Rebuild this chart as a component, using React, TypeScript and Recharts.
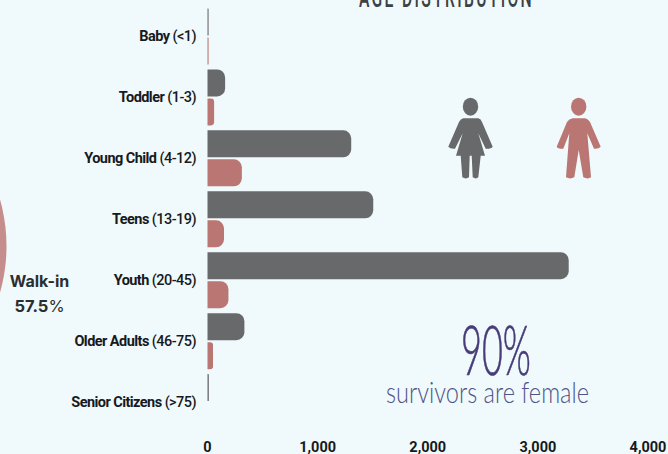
import { Bar, BarChart, Cell, Pie, PieChart, XAxis, YAxis } from "recharts";

const ageGroups = ["Baby", "Toddler", "Young Child", "Teens", "Youth", "Older Adults", "Senior Citizens"];
const ageRanges = ["(<1)", "(1-3)", "(4-12)", "(13-19)", "(20-45)", "(46-75)", "(>75)"];
const femaleCounts = [10, 160, 1305, 1505, 3280, 335, 12];
const maleCounts = [10, 60, 312, 150, 190, 50, 0];
const xTicks = [0, 1000, 2000, 3000, 4000];

const arrivalNames = ["Walk-in", "Other"];
const arrivalShares = [57.5, 42.5];

const GREY = "#68696b";
const PINK = "#b97672";
const BG = "#f0f9fb";

const data = ageGroups.map((name, i) => ({
  name,
  range: ageRanges[i],
  female: femaleCounts[i],
  male: maleCounts[i],
}));
const arrivals = arrivalNames.map((name, i) => ({ name, value: arrivalShares[i] }));

function AgeTick({ x, y, payload, index }: any) {
  return (
    <text
      x={x - 3.5}
      y={y}
      dy={4}
      textAnchor="end"
      fontFamily="Roboto"
      fontSize={14.5}
      fontWeight={700}
      letterSpacing={-0.55}
      fill="#17191c"
    >
      {payload.value} <tspan fontWeight={500}>{ageRanges[index]}</tspan>
    </text>
  );
}

function People() {
  return (
    <svg width={668} height={454} style={{ position: "absolute", left: 0, top: 0 }}>
      <text
        x={359}
        y={7}
        fontFamily="Roboto"
        fontSize={27}
        fontWeight={500}
        letterSpacing={4}
        fill="#3c4145"
        textLength={175}
        lengthAdjust="spacingAndGlyphs"
      >
        AGE DISTRIBUTION
      </text>

      <ellipse cx={470.5} cy={106.7} rx={7.7} ry={9} fill={GREY} />
      <path
        d="M463.3 118.3 L478.3 118.3 Q481 119 482 122 L492.7 146.7 Q491 149 485.7 148.7 L478.3 133.3 L485 155.7 L480.7 155.7 L478.3 177.3 Q476 179.5 472.7 177.3 L471.7 155.7 L469.7 155.7 L469 177.3 Q466 179.5 462.3 177.3 L460.7 155.7 L456 155.7 L462.7 133.3 L455 148.7 Q450 149 448.3 146.7 L459 122 Q460.5 119 463.3 118.3 Z"
        fill={GREY}
      />
      <ellipse cx={578.7} cy={106.7} rx={7.7} ry={9} fill={PINK} />
      <path
        d="M572.7 118.3 L585 118.3 Q588 119 590 122 L600.7 146.7 Q599 149 594 148.7 L587.3 133.3 L591 177.3 Q588 179.5 583.3 177.3 L578.7 150 L574.3 177.3 Q570 179.5 566 177.3 L569.3 133.3 L563.3 148.7 Q558 149 556.7 146.7 L567 122 Q569 119 572.7 118.3 Z"
        fill={PINK}
      />

      <text x={39.5} y={287} textAnchor="middle" fontFamily="Inter" fontSize={16} fontWeight={700} fill="#2b2e31">
        Walk-in
      </text>
      <text x={39.5} y={312} textAnchor="middle" fontFamily="Inter" fontSize={16.5} fontWeight={700} fill="#2b2e31">
        57.5<tspan fontWeight={400}>%</tspan>
      </text>

      <text
        x={461}
        y={375}
        fontFamily="Lato"
        fontWeight={300}
        fontSize={68}
        fill="#463c78"
        stroke="#463c78"
        strokeWidth={0.7}
        textLength={70}
        lengthAdjust="spacingAndGlyphs"
      >
        90%
      </text>
      <text
        x={386}
        y={403}
        fontFamily="Lato"
        fontWeight={300}
        fontSize={30}
        fill="#4f5488"
        textLength={203}
        lengthAdjust="spacingAndGlyphs"
      >
        survivors are female
      </text>
    </svg>
  );
}

export default function App() {
  return (
    <div
      style={{
        position: "absolute",
        left: 0,
        top: 0,
        width: 668,
        height: 454,
        overflow: "hidden",
        background: BG,
      }}
    >
      <div style={{ position: "absolute", left: 0, top: 0 }}>
        <PieChart width={668} height={454} margin={{ top: 0, right: 0, bottom: 0, left: 0 }}>
          <Pie
            data={arrivals}
            dataKey="value"
            cx={-163.5}
            cy={246}
            innerRadius={140}
            outerRadius={170}
            startAngle={103.5}
            endAngle={-256.5}
            stroke="none"
            isAnimationActive={false}
          >
            <Cell fill="#c58d8b" />
            <Cell fill={GREY} />
          </Pie>
        </PieChart>
      </div>
      <div style={{ position: "absolute", left: 0, top: 0 }}>
        <BarChart
          width={668}
          height={454}
          layout="vertical"
          data={data}
          barSize={27}
          barGap={2}
          margin={{ top: 6.5, right: 20, bottom: 0, left: 0 }}
        >
          <XAxis
            type="number"
            domain={[0, 4000]}
            ticks={xTicks}
            interval={0}
            height={21}
            axisLine={false}
            tickLine={false}
            tickMargin={2.5}
            tick={{ fill: "#17191c", fontSize: 14.5, fontWeight: 700, fontFamily: "Roboto" }}
            tickFormatter={(v: number) => v.toLocaleString("en-US")}
          />
          <YAxis
            type="category"
            dataKey="name"
            width={207.5}
            interval={0}
            axisLine={false}
            tickLine={false}
            tick={<AgeTick />}
          />
          <Bar dataKey="female" fill={GREY} radius={[0, 8, 8, 0]} isAnimationActive={false} />
          <Bar dataKey="male" fill={PINK} radius={[0, 8, 8, 0]} isAnimationActive={false} />
        </BarChart>
      </div>
      <People />
    </div>
  );
}
